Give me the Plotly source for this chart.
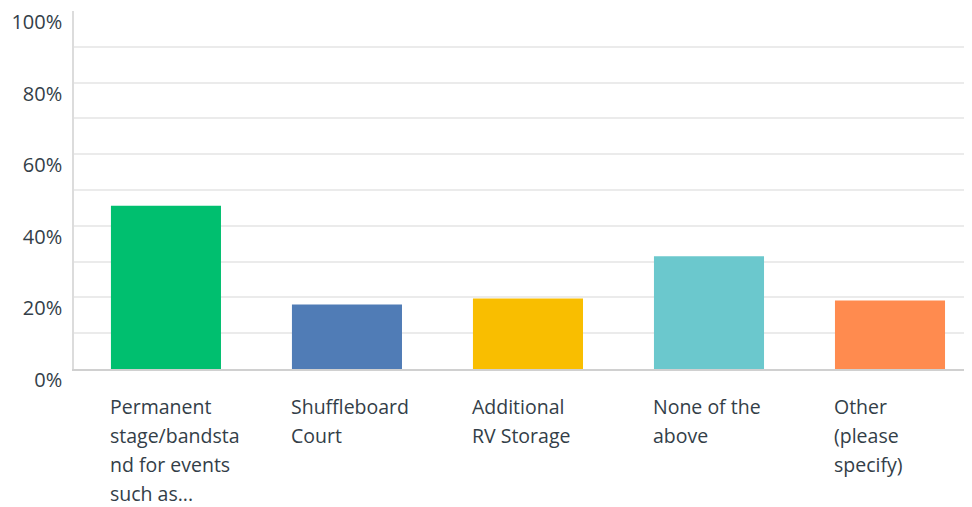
import plotly.graph_objects as go

categories = ["Permanent<br>stage/bandsta<br>nd for events<br>such as...",
              "Shuffleboard<br>Court",
              "Additional<br>RV Storage",
              "None of the<br>above",
              "Other<br>(please<br>specify)"]
values = [45.6, 18.0, 19.7, 31.5, 19.1]
colors = ["#00BF6F", "#507CB6", "#F9BE00", "#6BC8CD", "#FF8B4F"]
ytick_vals = [0, 20, 40, 60, 80, 100]
ytick_text = ["0%", "20%", "40%", "60%", "80%", "100%"]

xs = list(range(len(categories)))
bar_width = 0.608
text_color = "#333E48"
font_family = "Open Sans, Lato, sans-serif"

fig = go.Figure()
fig.add_trace(go.Bar(x=xs, y=values, marker=dict(color=colors, line=dict(width=0)),
                     width=bar_width, hoverinfo="skip"))

annotations = []
for i, lab in enumerate(categories):
    for j, line in enumerate(lab.split("<br>")):
        annotations.append(dict(
            x=i - bar_width / 2, xref="x", xanchor="left",
            y=0, yref="y", yanchor="top",
            yshift=-22 - 29 * j, xshift=-3,
            text=line, showarrow=False, align="left",
            font=dict(family=font_family, size=19.5, color=text_color)))

fig.update_layout(
    width=964, height=499,
    margin=dict(l=66, r=0, t=0, b=137.5),
    paper_bgcolor="white", plot_bgcolor="white",
    showlegend=False,
    annotations=annotations,
    xaxis=dict(range=[-0.508, 4.453], showticklabels=False, showgrid=False,
               zeroline=False, showline=True, linecolor="#D0D0D0", linewidth=2,
               fixedrange=True),
    yaxis=dict(range=[0, 100], tickvals=ytick_vals, ticktext=ytick_text,
               ticks="outside", ticklen=6, tickcolor="rgba(0,0,0,0)",
               ticklabelshift=11, ticklabeloverflow="allow",
               showgrid=True, gridcolor="#EBEBEB", gridwidth=1.5,
               minor=dict(dtick=10, tick0=0, showgrid=True, gridcolor="#EBEBEB", gridwidth=1.5),
               zeroline=False, showline=True, linecolor="#DCDCDC", linewidth=1.5,
               tickfont=dict(family=font_family, size=20, color=text_color),
               fixedrange=True),
)

fig.write_html("out.html")
